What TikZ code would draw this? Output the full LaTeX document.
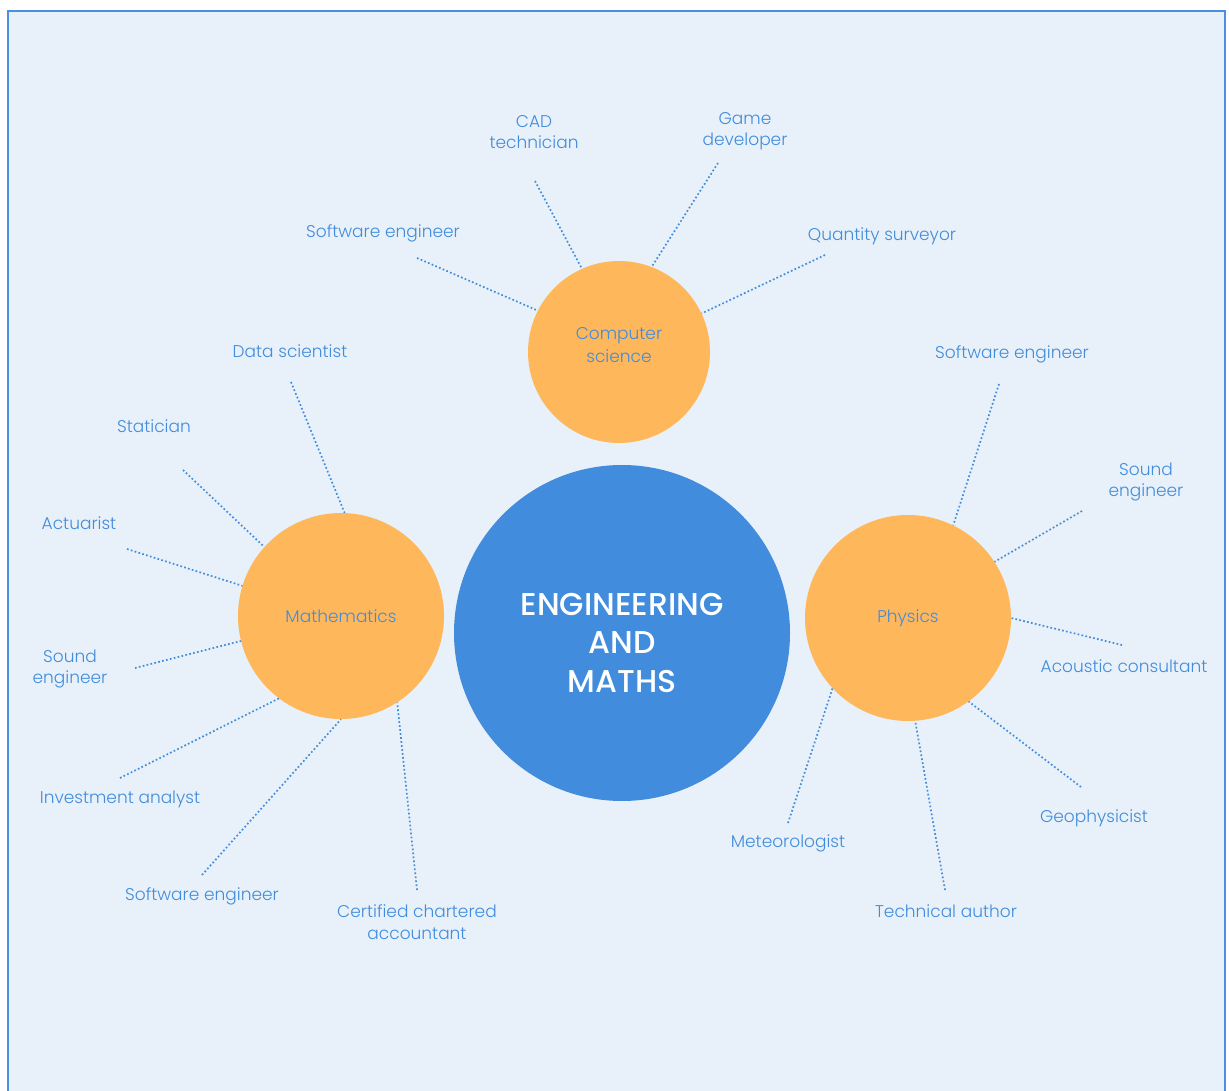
\documentclass[tikz,border=0pt]{standalone}
\usepackage{fontspec}
\setmainfont{Poppins Light}
\newfontfamily\titlefont{Poppins Medium}
\definecolor{frameblue}{HTML}{4A90E2}
\definecolor{hubblue}{HTML}{418CDC}
\definecolor{paleblue}{HTML}{E8F1F9}
\definecolor{topicorange}{HTML}{FFB75C}
\definecolor{labelblue}{HTML}{418CDC}

\begin{document}
\begin{tikzpicture}[x=1pt,y=-1pt,
  hub/.style={circle, fill=hubblue, minimum size=336pt, inner sep=0pt},
  hubtitle/.style={text=white, align=center, inner sep=0pt,
    font=\titlefont\fontsize{31.5}{38.5}\selectfont},
  topic/.style={circle, fill=topicorange, inner sep=0pt, text=labelblue,
    align=center, font=\fontsize{17}{22.5}\selectfont},
  job/.style={text=labelblue, align=center, inner sep=0pt,
    font=\fontsize{17}{21.5}\selectfont},
  link/.style={labelblue, line width=1.7pt, dash pattern=on 1.7pt off 2.3pt},
]
% page and panel
\useasboundingbox (0,0) rectangle (1229,1091);
\fill[white] (0,0) rectangle (1229,1091);
\fill[paleblue] (8,11) rectangle (1225,1100);
\draw[frameblue, line width=2.8pt] (8,1100) -- (8,11) -- (1225,11) -- (1225,1100);

% hub and topic circles
\node[hub] (hub) at (622,633) {};
\node[hubtitle] (hubtext) at ([yshift=-10pt]hub.center) {ENGINEERING\\AND\\MATHS};
\node[topic, minimum size=182pt, text depth=14pt] (cs) at (619,352) {Computer\\science};
\node[topic, minimum size=206pt] (math) at (341,616) {Mathematics};
\node[topic, minimum size=206pt] (phys) at (908,618) {Physics};

% computer science careers
\node[job] (cs1) at (383,233) {Software engineer};
\node[job] (cs2) at (534,132) {CAD\\technician};
\node[job] (cs3) at (745,131) {Game\\developer};
\node[job] (cs4) at (882,236) {Quantity surveyor};
\coordinate (cs1e) at (417,258);
\coordinate (cs2e) at (535,181);
\coordinate (cs3e) at (718,163);
\coordinate (cs4e) at (825,255);
\draw[link] (cs1e) -- (cs.153);
\draw[link] (cs2e) -- (cs.114);
\draw[link] (cs3e) -- (cs.69);
\draw[link] (cs4e) -- (cs.25);

% mathematics careers
\node[job] (m1) at (290,351) {Data scientist};
\node[job] (m2) at (154,426) {Statician};
\node[job] (m3) at (79,523) {Actuarist};
\node[job] (m4) at (70,669) {Sound\\engineer};
\node[job] (m5) at (120,799) {Investment analyst};
\node[job] (m6) at (202,896) {Software engineer};
\node[job] (m7) at (417,922) {Certified chartered\\accountant};
\coordinate (m1e) at (291,382);
\coordinate (m2e) at (183,470);
\coordinate (m3e) at (127,549);
\coordinate (m4e) at (135,668);
\coordinate (m5e) at (120,778);
\coordinate (m6e) at (202,875);
\coordinate (m7e) at (417,890);
\draw[link] (m1e) -- (math.88);
\draw[link] (m2e) -- (math.138);
\draw[link] (m3e) -- (math.163);
\draw[link] (m4e) -- (math.194);
\draw[link] (m5e) -- (math.233);
\draw[link] (m6e) -- (math.270);
\draw[link] (m7e) -- (math.-57);

% physics careers
\node[job] (p1) at (1012,354) {Software engineer};
\node[job] (p2) at (1146,482) {Sound\\engineer};
\node[job] (p3) at (1124,666) {Acoustic consultant};
\node[job] (p4) at (1094,818) {Geophysicist};
\node[job] (p5) at (946,911) {Technical author};
\node[job] (p6) at (788,843) {Meteorologist};
\coordinate (p1e) at (999,384);
\coordinate (p2e) at (1082,511);
\coordinate (p3e) at (1122,645);
\coordinate (p4e) at (1081,787);
\coordinate (p5e) at (945,890);
\coordinate (p6e) at (788,823);
\draw[link] (p1e) -- (phys.64);
\draw[link] (p2e) -- (phys.33);
\draw[link] (p3e) -- (phys.0);
\draw[link] (p4e) -- (phys.-54);
\draw[link] (p5e) -- (phys.-86);
\draw[link] (p6e) -- (phys.223);
\end{tikzpicture}
\end{document}
